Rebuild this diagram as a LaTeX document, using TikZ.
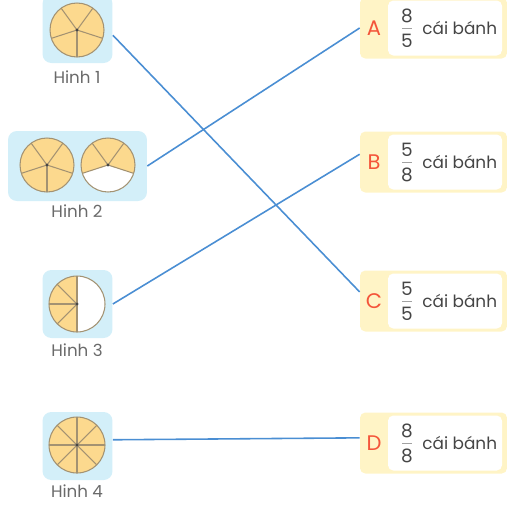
\documentclass[tikz,border=0pt]{standalone}
\usepackage{fontspec}
\setmainfont{Poppins}
\usetikzlibrary{positioning,calc}
\definecolor{piefill}{HTML}{FCD98E}
\definecolor{pieline}{HTML}{A39272}
\definecolor{picblue}{HTML}{D3EFF9}
\definecolor{cardyellow}{HTML}{FFF4C6}
\definecolor{linkblue}{HTML}{4A8ED3}
\definecolor{letterred}{HTML}{F4553A}
\definecolor{textgray}{HTML}{454545}
\tikzset{>=stealth,
  picbox/.style={fill=picblue, rounded corners=5pt, minimum width=1.4cm, minimum height=1.36cm},
  cardbox/.style={fill=cardyellow, rounded corners=3pt, minimum width=2.94cm, minimum height=1.22cm},
  cardin/.style={fill=white, rounded corners=3pt, minimum width=2.28cm, minimum height=1.1cm},
  piece/.style={draw=pieline, line width=0.6pt},
  figlabel/.style={text=textgray!80, font=\fontsize{9.5}{11}\selectfont},
  letter/.style={text=letterred, font=\fontsize{12}{14}\selectfont},
  digit/.style={text=textgray, font=\fontsize{10.5}{12}\selectfont, inner sep=1pt},
  cardtext/.style={text=textgray, font=\fontsize{9.6}{12}\selectfont},
  link/.style={draw=linkblue, line width=0.9pt}}

\begin{document}
\begin{tikzpicture}[x=0.02cm,y=-0.02cm]
\useasboundingbox (0,0) rectangle (516,508);

% picture boxes
\node[picbox] (box1) at (77.5,29) {};
\node[picbox, minimum width=2.78cm, minimum height=1.4cm] (box2) at (77.5,166) {};
\node[picbox] (box3) at (77.5,304) {};
\node[picbox] (box4) at (77.5,446) {};

\coordinate (c1) at (77,30);
\coordinate (c2a) at (47,165);
\coordinate (c2b) at (108,165);
\coordinate (c3) at (77,304);
\coordinate (c4) at (77,445);

% Hinh 1
\fill[piefill] (c1) circle (0.54cm);
\foreach \a in {54,126,198,270,342} \draw[piece] (c1) -- ++(\a:0.54cm);
\draw[piece] (c1) circle (0.54cm);
% Hinh 2
\fill[piefill] (c2a) circle (0.54cm);
\foreach \a in {54,126,198,270,342} \draw[piece] (c2a) -- ++(\a:0.54cm);
\draw[piece] (c2a) circle (0.54cm);
\fill[white] (c2b) circle (0.54cm);
\fill[piefill] (c2b) -- ++(-18:0.54cm) arc[start angle=-18, end angle=198, radius=0.54cm] -- cycle;
\foreach \a in {-18,54,126,198} \draw[piece] (c2b) -- ++(\a:0.54cm);
\draw[piece] (c2b) circle (0.54cm);
% Hinh 3
\fill[white] (c3) circle (0.56cm);
\fill[piefill] (c3) -- ++(90:0.56cm) arc[start angle=90, end angle=270, radius=0.56cm] -- cycle;
\foreach \a in {90,135,180,225,270} \draw[piece] (c3) -- ++(\a:0.56cm);
\draw[piece] (c3) circle (0.56cm);
% Hinh 4
\fill[piefill] (c4) circle (0.56cm);
\foreach \a in {0,45,...,315} \draw[piece] (c4) -- ++(\a:0.56cm);
\draw[piece] (c4) circle (0.56cm);

\foreach \c in {c1,c2a,c2b,c3,c4} \fill[textgray] (\c) circle (0.9pt);

\node[figlabel] (lab1) at (77,77) {Hinh 1};
\node[figlabel] (lab2) at (77,211) {Hinh 2};
\node[figlabel] (lab3) at (77,350) {Hinh 3};
\node[figlabel] (lab4) at (77,491) {Hinh 4};

% answer cards
\foreach \n/\y/\num/\den in {A/28/8/5, B/162/5/8, C/301/5/5, D/443/8/8} {
  \node[cardbox] (card\n) at (433.5,\y) {};
  \node[cardin] (in\n) at (445,\y) {};
  \node[letter] (let\n) at (374,\y) {\n};
  \node[digit] (num\n) at (407,\y-12.5) {\num};
  \node[digit] (den\n) at (407,\y+12.5) {\den};
  \draw[draw=textgray!50, line width=0.5pt] ($(num\n)!0.5!(den\n)+(-5,0)$) -- ($(num\n)!0.5!(den\n)+(5,0)$);
  \node[cardtext, anchor=west, inner sep=0pt] (txt\n) at (422,\y) {cái bánh};
}

% connections
\draw[link] (box1.-10) -- (cardC.173);
\draw[link] (box2.east) -- (cardA.west);
\draw[link] (box3.east) -- (cardB.174);
\draw[link] (box4.10) -- (cardD.176);
\end{tikzpicture}
\end{document}
